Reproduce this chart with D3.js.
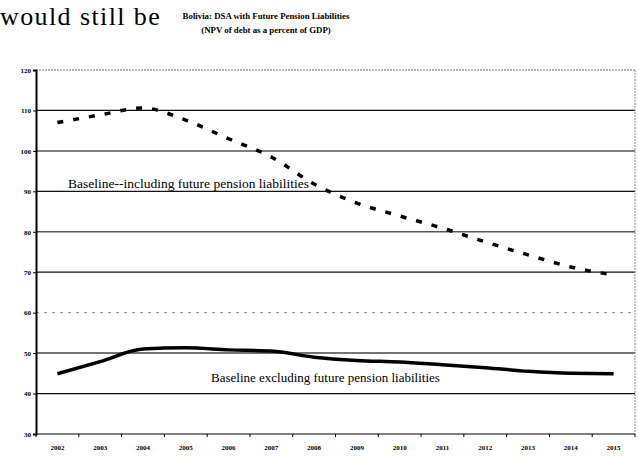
<!DOCTYPE html>
<html>
<head>
<meta charset="utf-8">
<script src="https://cdn.jsdelivr.net/npm/d3@7/dist/d3.min.js"></script>
<style>
  html, body { margin: 0; padding: 0; background: #fff; }
  svg { display: block; }
</style>
</head>
<body>
<script>
// Bolivia DSA: NPV of debt as a percent of GDP, with and without future pension liabilities
const years = ["2002","2003","2004","2005","2006","2007","2008","2009","2010","2011","2012","2013","2014","2015"];
const includingPensions = [107, 108.9, 110.6, 107.6, 103, 98.5, 91.8, 87.1, 83.9, 80.9, 77.5, 74.3, 71.3, 69.3];
const excludingPensions = [44.9, 47.9, 51.0, 51.3, 50.8, 50.5, 49.0, 48.2, 47.8, 47.1, 46.4, 45.5, 45.0, 44.9];
const yTicks = [30, 40, 50, 60, 70, 80, 90, 100, 110, 120];

const W = 639, H = 456;
const margin = { left: 36, right: 4, top: 70, bottom: 22 };
const serif = "'Liberation Serif', 'Times New Roman', serif";

const svg = d3.select("body").append("svg").attr("width", W).attr("height", H);

const x = d3.scaleBand().domain(years).range([margin.left, 635]);
const y = d3.scaleLinear().domain([30, 120]).range([434, 70]);

// Heading text above the chart
svg.append("text").attr("x", 0).attr("y", 25)
  .attr("font-family", serif).attr("font-size", 26).attr("letter-spacing", 1.4)
  .text("would still be");

svg.append("text").attr("x", 266).attr("y", 19).attr("text-anchor", "middle")
  .attr("font-family", serif).attr("font-size", 8.8).attr("font-weight", "bold")
  .text("Bolivia: DSA with Future Pension Liabilities");
svg.append("text").attr("x", 266).attr("y", 33).attr("text-anchor", "middle")
  .attr("font-family", serif).attr("font-size", 8.8).attr("font-weight", "bold")
  .text("(NPV of debt as a percent of GDP)");

// Horizontal gridlines with mixed styles
const gridStyle = {
  40: { stroke: "#111", w: 1.2, dash: null },
  50: { stroke: "#444", w: 1.5, dash: null },
  60: { stroke: "#888", w: 1, dash: "3,5" },
  70: { stroke: "#111", w: 1.2, dash: null },
  80: { stroke: "#555", w: 1.5, dash: null },
  90: { stroke: "#111", w: 1.2, dash: null },
  100: { stroke: "#555", w: 1.5, dash: null },
  110: { stroke: "#111", w: 1.2, dash: null },
  120: { stroke: "#777", w: 1, dash: "2,1" }
};
yTicks.filter(t => t > 30).forEach(t => {
  const s = gridStyle[t];
  svg.append("line")
    .attr("x1", margin.left).attr("x2", 635)
    .attr("y1", y(t)).attr("y2", y(t))
    .attr("stroke", s.stroke).attr("stroke-width", s.w)
    .attr("stroke-dasharray", s.dash);
});

// Right border
svg.append("line").attr("x1", 635).attr("x2", 635).attr("y1", y(120)).attr("y2", y(30))
  .attr("stroke", "#888").attr("stroke-width", 1).attr("stroke-dasharray", "2,1");

// Y axis
const yAxis = d3.axisLeft(y).tickValues(yTicks).tickSize(3).tickPadding(2).tickFormat(d3.format("d"));
const gy = svg.append("g").attr("transform", `translate(${margin.left},0)`).call(yAxis);
gy.select(".domain").attr("stroke", "#000").attr("stroke-width", 2);
gy.selectAll("text").attr("font-family", serif).attr("font-size", 7).attr("font-weight", "bold");

// X axis: labels centred in bands, tick marks on band boundaries
const gx = svg.append("g").attr("transform", `translate(0,${y(30)})`);
gx.append("line").attr("x1", margin.left).attr("x2", 635).attr("stroke", "#000").attr("stroke-width", 1.2);
const boundaries = years.map(d => x(d)).concat([x.range()[1]]);
gx.selectAll("line.tick").data(boundaries).join("line").attr("class", "tick")
  .attr("x1", d => d).attr("x2", d => d).attr("y1", 0).attr("y2", 3)
  .attr("stroke", "#000").attr("stroke-width", 1);
gx.selectAll("text").data(years).join("text")
  .attr("x", d => x(d) + x.bandwidth() / 2).attr("y", 16).attr("text-anchor", "middle")
  .attr("font-family", serif).attr("font-size", 7).attr("font-weight", "bold")
  .text(d => d);

const cx = d => x(d) + x.bandwidth() / 2;

// Series lines
const lineInc = d3.line().x((d, i) => cx(years[i])).y(d => y(d)).curve(d3.curveMonotoneX);
svg.append("path").datum(includingPensions)
  .attr("d", lineInc).attr("fill", "none").attr("stroke", "#000")
  .attr("stroke-width", 3.5).attr("stroke-dasharray", "6,10");

const lineExc = d3.line().x((d, i) => cx(years[i])).y(d => y(d)).curve(d3.curveMonotoneX);
svg.append("path").datum(excludingPensions)
  .attr("d", lineExc).attr("fill", "none").attr("stroke", "#000").attr("stroke-width", 3.5);

// Series labels
svg.append("text").attr("x", 68).attr("y", 188)
  .attr("font-family", serif).attr("font-size", 13.5)
  .text("Baseline--including future pension liabilities");
svg.append("text").attr("x", 211).attr("y", 382)
  .attr("font-family", serif).attr("font-size", 13)
  .text("Baseline excluding future pension liabilities");
</script>
</body>
</html>
